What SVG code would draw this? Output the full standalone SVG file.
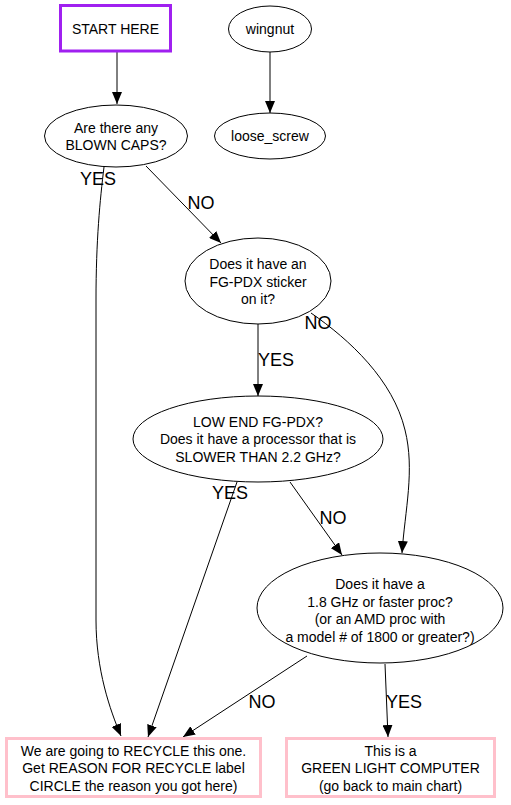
<svg xmlns="http://www.w3.org/2000/svg" width="511" height="805" viewBox="0 0 511 805">
<style>
text{font-family:"Liberation Sans",Arial,sans-serif;fill:#000}
.n{font-size:14px;text-anchor:middle}
.l{font-size:18px;text-anchor:middle}
.e{fill:#fff;stroke:#000;stroke-width:1}
.purple{fill:#fff;stroke:#a020f0;stroke-width:3}
.pink{fill:#fff;stroke:#ffc0cb;stroke-width:3}
.c{fill:none;stroke:#000;stroke-width:1;marker-end:url(#ah)}
</style>
<defs>
<marker id="ah" viewBox="0 0 12 10" refX="12" refY="5" markerWidth="12" markerHeight="10" markerUnits="userSpaceOnUse" orient="auto">
<path d="M0,0 L12,5 L0,10 z" fill="#000"/>
</marker>
</defs>
<rect width="511" height="805" fill="#fff"/>
<g id="connectors">
<path class="c" d="M117,52 L117,104"/>
<path class="c" d="M270,52 L270,113"/>
<path class="c" d="M104,167 C100,200 96,240 96,300 L96,620 C96,670 110,710 121,736"/>
<path class="c" d="M146,166 L221,243"/>
<path class="c" d="M258,324 L258,396"/>
<path class="c" d="M311,313 C350,340 393,380 405,430 C415,470 405,510 402,553"/>
<path class="c" d="M237,482 L148,737"/>
<path class="c" d="M290,482 L342,555"/>
<path class="c" d="M307,656 L183,737"/>
<path class="c" d="M385,664 L388,737"/>
</g>
<g id="edge-labels">
<text class="l" x="98" y="185">YES</text>
<text class="l" x="201" y="209">NO</text>
<text class="l" x="276" y="366">YES</text>
<text class="l" x="318" y="329">NO</text>
<text class="l" x="230" y="499">YES</text>
<text class="l" x="333" y="524">NO</text>
<text class="l" x="262" y="708">NO</text>
<text class="l" x="404" y="708">YES</text>
</g>
<g id="start">
<rect class="purple" x="60.5" y="5.5" width="110" height="45.5"/>
<text class="n" x="115.5" y="34">START HERE</text>
</g>
<g id="wingnut">
<ellipse class="e" cx="270" cy="29" rx="41.5" ry="23"/>
<text class="n" x="270" y="34">wingnut</text>
</g>
<g id="loose_screw">
<ellipse class="e" cx="270" cy="136" rx="55.5" ry="23"/>
<text class="n" x="270" y="141">loose_screw</text>
</g>
<g id="blown_caps">
<ellipse class="e" cx="116" cy="136" rx="71.5" ry="31"/>
<text class="n" x="116" y="133">Are there any</text>
<text class="n" x="116" y="150">BLOWN CAPS?</text>
</g>
<g id="fgpdx">
<ellipse class="e" cx="258" cy="281" rx="73" ry="43"/>
<text class="n" x="258" y="269">Does it have an</text>
<text class="n" x="258" y="287">FG-PDX sticker</text>
<text class="n" x="258" y="304">on it?</text>
</g>
<g id="lowend">
<ellipse class="e" cx="258" cy="439" rx="125" ry="43"/>
<text class="n" x="258" y="427">LOW END FG-PDX?</text>
<text class="n" x="258" y="444">Does it have a processor that is</text>
<text class="n" x="258" y="462">SLOWER THAN 2.2 GHz?</text>
</g>
<g id="ghz18">
<ellipse class="e" cx="380" cy="608" rx="123" ry="55"/>
<text class="n" x="380" y="589">Does it have a</text>
<text class="n" x="380" y="607">1.8 GHz or faster proc?</text>
<text class="n" x="380" y="624">(or an AMD proc with</text>
<text class="n" x="380" y="642">a model # of 1800 or greater?)</text>
</g>
<g id="recycle">
<rect class="pink" x="6.5" y="738.5" width="254" height="58"/>
<text class="n" x="133.5" y="756">We are going to RECYCLE this one.</text>
<text class="n" x="133.5" y="773">Get REASON FOR RECYCLE label</text>
<text class="n" x="133.5" y="791">CIRCLE the reason you got here)</text>
</g>
<g id="green">
<rect class="pink" x="286.5" y="738.5" width="208" height="58"/>
<text class="n" x="390.5" y="756">This is a</text>
<text class="n" x="390.5" y="773">GREEN LIGHT COMPUTER</text>
<text class="n" x="390.5" y="791">(go back to main chart)</text>
</g>
</svg>
